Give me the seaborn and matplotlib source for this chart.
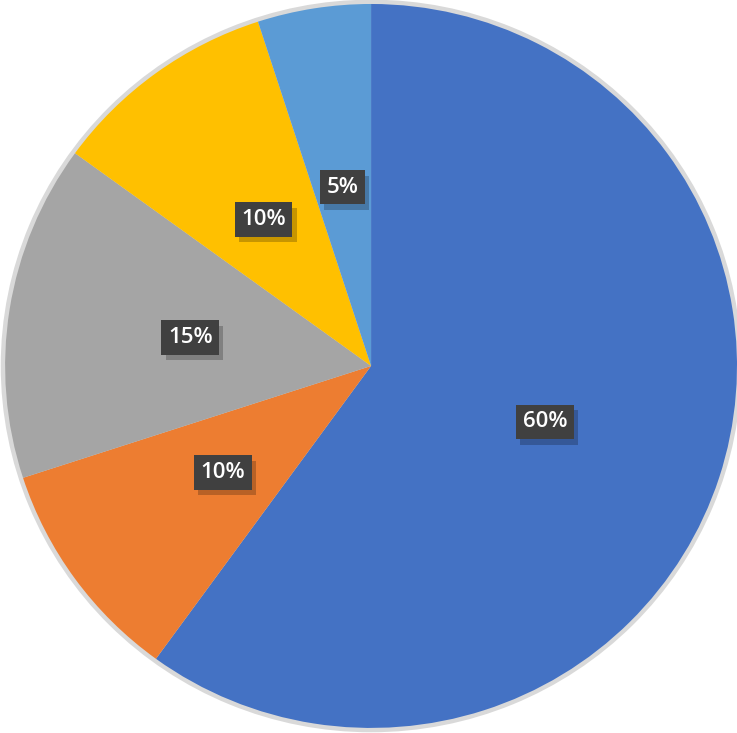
import matplotlib
matplotlib.use("Agg")
import matplotlib.pyplot as plt
import matplotlib.patheffects as pe
import numpy as np
import seaborn as sns

shares = [60, 10, 15, 10, 5]
colors = ["#4472C4", "#ED7D31", "#A5A5A5", "#FFC000", "#5B9BD5"]
labels = ["60%", "10%", "15%", "10%", "5%"]

sns.set_theme(style="white")
plt.rcParams['font.family'] = ['Open Sans', 'DejaVu Sans']

fig = plt.figure(figsize=(7.37, 7.33), dpi=100)
ax = fig.add_axes([0, 0, 1, 1])

# faint outline around the pie
ax.pie([1], radius=1.012, colors=["#d9d9d9"], wedgeprops=dict(linewidth=0))
wedges, _ = ax.pie(shares, colors=colors, startangle=90, counterclock=False,
                   wedgeprops=dict(linewidth=0))

for w, lab in zip(wedges, labels):
    ang = np.deg2rad((w.theta1 + w.theta2) / 2)
    x, y = 0.5 * np.cos(ang), 0.5 * np.sin(ang)
    t = ax.text(x, y, lab, ha='center', va='center', fontsize=16, fontweight='semibold',
                color='white',
                bbox=dict(boxstyle='square,pad=0.3', fc='#404040', ec='none'))
    t.get_bbox_patch().set_path_effects(
        [pe.SimplePatchShadow(offset=(3, -4), shadow_rgbFace='black', alpha=0.22), pe.Normal()])

ax.set_aspect('auto')
ax.set_xlim(-1.014, 1.0)
ax.set_ylim(-1.014, 1.011)
ax.axis('off')

fig.savefig("out.png", dpi=100)
